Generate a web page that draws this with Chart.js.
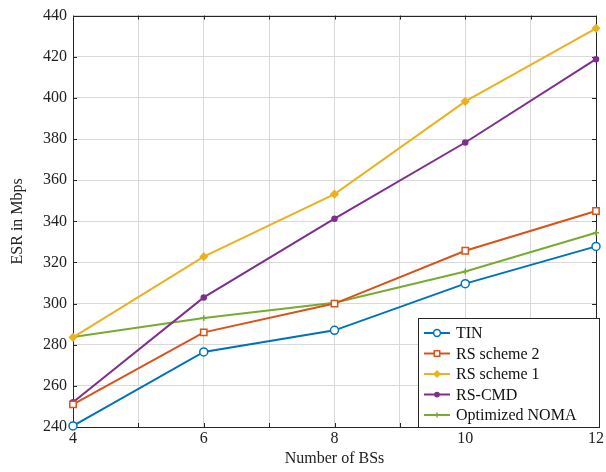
<!DOCTYPE html>
<html>
<head>
<meta charset="utf-8">
<script src="https://cdn.jsdelivr.net/npm/chart.js@4/dist/chart.umd.min.js"></script>
<style>
  html, body { margin: 0; padding: 0; background: #fff; }
  #wrap { width: 606px; height: 472px; }
</style>
</head>
<body>
<div id="wrap"><canvas id="myChart" width="606" height="472"></canvas></div>
<script>
const numBS = [4, 6, 8, 10, 12];
const tin = [240.5, 276.5, 287, 309.7, 327.8];
const rsScheme2 = [251, 286, 300, 325.7, 345];
const rsScheme1 = [283.6, 322.8, 353.2, 398.3, 433.8];
const rsCmd = [252, 303, 341.3, 378.3, 418.8];
const noma = [283.8, 293, 300.4, 315.6, 334.4];
const yTicks = [240, 260, 280, 300, 320, 340, 360, 380, 400, 420, 440];

const FONT = 'Liberation Serif';

function pts(vals) {
  return numBS.map((x, i) => ({ x: x, y: vals[i] }));
}

function ds(label, vals, color, style, radius, fill) {
  return {
    label: label,
    data: pts(vals),
    borderColor: color,
    backgroundColor: fill,
    pointBackgroundColor: fill,
    pointBorderColor: color,
    pointStyle: style,
    pointRadius: radius,
    pointBorderWidth: 1.5,
    borderWidth: 2,
    tension: 0,
    clip: false,
  };
}

// frame, inner tick marks and legend box inside the plot
const extras = {
  id: 'extras',
  beforeDatasetsDraw(chart) {
    const ctx = chart.ctx;
    const a = chart.chartArea;
    const xs = chart.scales.x, ys = chart.scales.y;
    ctx.save();
    ctx.strokeStyle = '#262626';
    ctx.lineWidth = 1;
    ctx.beginPath();
    for (let v = 4; v <= 12; v++) {
      const px = Math.round(xs.getPixelForValue(v)) + 0.5;
      ctx.moveTo(px, a.bottom); ctx.lineTo(px, a.bottom - 4);
      ctx.moveTo(px, a.top); ctx.lineTo(px, a.top + 4);
    }
    yTicks.forEach(v => {
      const py = Math.round(ys.getPixelForValue(v)) + 0.5;
      ctx.moveTo(a.left, py); ctx.lineTo(a.left + 4, py);
      ctx.moveTo(a.right, py); ctx.lineTo(a.right - 4, py);
    });
    ctx.stroke();
    ctx.strokeRect(Math.round(a.left) + 0.5, Math.round(a.top) + 0.5,
      Math.round(a.right - a.left), Math.round(a.bottom - a.top));
    ctx.restore();
  },
  afterDraw(chart) {
    const ctx = chart.ctx;
    ctx.save();
    const lx = 418.5, ly = 318.5, lw = 181, lh = 109;
    ctx.fillStyle = '#fff';
    ctx.fillRect(lx, ly, lw, lh);
    ctx.strokeStyle = '#262626';
    ctx.lineWidth = 1;
    ctx.strokeRect(lx, ly, lw, lh);
    ctx.font = '16px "' + FONT + '"';
    ctx.textBaseline = 'middle';
    chart.data.datasets.forEach((d, i) => {
      const y = 333 + i * 20.5;
      ctx.strokeStyle = d.borderColor;
      ctx.lineWidth = 2;
      ctx.beginPath();
      ctx.moveTo(424, y); ctx.lineTo(450, y);
      ctx.stroke();
      ctx.fillStyle = d.pointBackgroundColor;
      ctx.lineWidth = 1.5;
      Chart.helpers.drawPoint(ctx, {
        pointStyle: d.pointStyle, radius: d.pointRadius * 0.85, borderWidth: 1.5
      }, 437, y);
      ctx.fillStyle = '#111';
      ctx.fillText(d.label, 456, y + 1);
    });
    ctx.restore();
  }
};

new Chart(document.getElementById('myChart'), {
  type: 'line',
  data: {
    datasets: [
      ds('TIN', tin, '#0072BD', 'circle', 4, '#fff'),
      ds('RS scheme 2', rsScheme2, '#D95319', 'rect', 4.5, '#fff'),
      ds('RS scheme 1', rsScheme1, '#EDB120', 'rectRot', 3.5, '#EDB120'),
      ds('RS-CMD', rsCmd, '#7E2F8E', 'circle', 2.5, '#7E2F8E'),
      ds('Optimized NOMA', noma, '#77AC30', 'cross', 3, '#77AC30'),
    ]
  },
  options: {
    responsive: false,
    animation: false,
    layout: { padding: { top: 13, right: 6, left: 0, bottom: 0 } },
    plugins: {
      legend: { display: false },
      tooltip: { enabled: false },
    },
    scales: {
      x: {
        type: 'linear',
        min: 4,
        max: 12,
        afterFit(s) { s.height = 45; },
        ticks: {
          stepSize: 1,
          autoSkip: false,
          maxRotation: 0,
          color: '#222',
          padding: 2,
          font: { family: FONT, size: 16 },
          callback: v => (v % 2 === 0 ? v : ''),
        },
        grid: { color: '#d9d9d9', drawTicks: false },
        border: { display: false },
        title: {
          display: true,
          text: 'Number of BSs',
          color: '#222',
          padding: { top: 14 },
          font: { family: FONT, size: 16 },
        },
      },
      y: {
        min: 240,
        max: 440,
        afterFit(s) { s.width = 73; },
        ticks: {
          stepSize: 20,
          color: '#222',
          padding: 6,
          font: { family: FONT, size: 16 },
        },
        grid: { color: '#d9d9d9', drawTicks: false },
        border: { display: false },
        title: {
          display: true,
          text: 'ESR in Mbps',
          color: '#222',
          padding: { top: 8, bottom: 6 },
          font: { family: FONT, size: 16 },
        },
      },
    },
  },
  plugins: [extras],
});
</script>
</body>
</html>
